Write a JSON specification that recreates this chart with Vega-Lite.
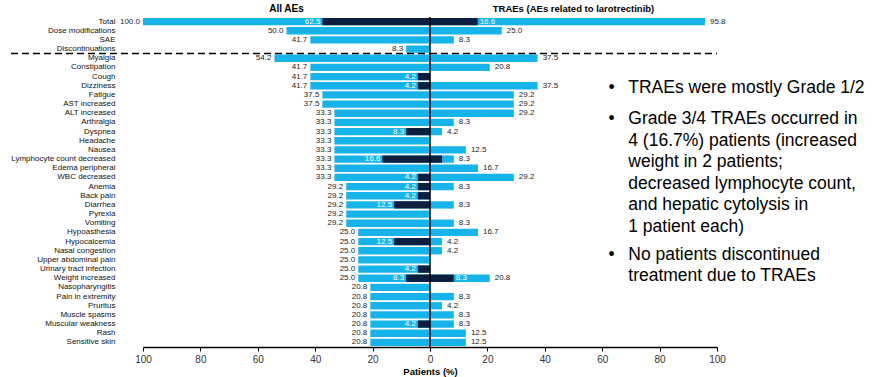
{
  "$schema": "https://vega.github.io/schema/vega-lite/v6.json",
  "padding": {"left": 10, "top": 3, "right": 2, "bottom": 2},
  "bounds": "flush",
  "spacing": 0,
  "config": {"view": {"stroke": null}, "font": "Liberation Sans"},
  "resolve": {"scale": {"y": "independent"}},
  "datasets": {
    "ae": [
      {"event": "Total", "ae": 100.0, "ae34": 37.5, "ae34Label": "62.5", "tr": 95.8, "tr34": 16.6, "tr34Label": "16.6"},
      {"event": "Dose modifications", "ae": 50.0, "tr": 25.0},
      {"event": "SAE", "ae": 41.7, "tr": 8.3},
      {"event": "Discontinuations", "ae": 8.3, "tr": null},
      {"event": "Myalgia", "ae": 54.2, "tr": 37.5},
      {"event": "Constipation", "ae": 41.7, "tr": 20.8},
      {"event": "Cough", "ae": 41.7, "ae34": 4.2, "ae34Label": "4.2", "tr": null},
      {"event": "Dizziness", "ae": 41.7, "ae34": 4.2, "ae34Label": "4.2", "tr": 37.5},
      {"event": "Fatigue", "ae": 37.5, "tr": 29.2},
      {"event": "AST increased", "ae": 37.5, "tr": 29.2},
      {"event": "ALT increased", "ae": 33.3, "tr": 29.2},
      {"event": "Arthralgia", "ae": 33.3, "tr": 8.3},
      {"event": "Dyspnea", "ae": 33.3, "ae34": 8.3, "ae34Label": "8.3", "tr": 4.2},
      {"event": "Headache", "ae": 33.3, "tr": null},
      {"event": "Nausea", "ae": 33.3, "tr": 12.5},
      {"event": "Lymphocyte count decreased", "ae": 33.3, "ae34": 16.6, "ae34Label": "16.6", "tr": 8.3, "tr34": 4.2},
      {"event": "Edema peripheral", "ae": 33.3, "tr": 16.7},
      {"event": "WBC decreased", "ae": 33.3, "ae34": 4.2, "ae34Label": "4.2", "tr": 29.2},
      {"event": "Anemia", "ae": 29.2, "ae34": 4.2, "ae34Label": "4.2", "tr": 8.3},
      {"event": "Back pain", "ae": 29.2, "ae34": 4.2, "ae34Label": "4.2", "tr": null},
      {"event": "Diarrhea", "ae": 29.2, "ae34": 12.5, "ae34Label": "12.5", "tr": 8.3},
      {"event": "Pyrexia", "ae": 29.2, "tr": null},
      {"event": "Vomiting", "ae": 29.2, "tr": 8.3},
      {"event": "Hypoasthesia", "ae": 25.0, "tr": 16.7},
      {"event": "Hypocalcemia", "ae": 25.0, "ae34": 12.5, "ae34Label": "12.5", "tr": 4.2},
      {"event": "Nasal congestion", "ae": 25.0, "tr": 4.2},
      {"event": "Upper abdominal pain", "ae": 25.0, "tr": null},
      {"event": "Urinary tract infection", "ae": 25.0, "ae34": 4.2, "ae34Label": "4.2", "tr": null},
      {"event": "Weight increased", "ae": 25.0, "ae34": 8.3, "ae34Label": "8.3", "tr": 20.8, "tr34": 8.3, "tr34Label": "8.3"},
      {"event": "Nasopharyngitis", "ae": 20.8, "tr": null},
      {"event": "Pain in extremity", "ae": 20.8, "tr": 8.3},
      {"event": "Pruritus", "ae": 20.8, "tr": 4.2},
      {"event": "Muscle spasms", "ae": 20.8, "tr": 8.3},
      {"event": "Muscular weakness", "ae": 20.8, "ae34": 4.2, "ae34Label": "4.2", "tr": 8.3},
      {"event": "Rash", "ae": 20.8, "tr": 12.5},
      {"event": "Sensitive skin", "ae": 20.8, "tr": 12.5}
    ],
    "notes": [
      {"line": 0, "bullet": true, "text": "TRAEs were mostly Grade 1/2"},
      {"line": 1.45, "bullet": true, "text": "Grade 3/4 TRAEs occurred in"},
      {"line": 2.45, "bullet": false, "text": "4 (16.7%) patients (increased"},
      {"line": 3.45, "bullet": false, "text": "weight in 2 patients;"},
      {"line": 4.45, "bullet": false, "text": "decreased lymphocyte count,"},
      {"line": 5.45, "bullet": false, "text": "and hepatic cytolysis in"},
      {"line": 6.45, "bullet": false, "text": "1 patient each)"},
      {"line": 7.75, "bullet": true, "text": "No patients discontinued"},
      {"line": 8.75, "bullet": false, "text": "treatment due to TRAEs"}
    ]
  },
  "hconcat": [
    {
      "width": 287,
      "height": 330,
      "data": {"name": "ae"},
      "title": {"text": "All AEs", "fontSize": 10, "fontWeight": "bold", "offset": 3, "color": "#000", "anchor": "middle"},
      "encoding": {
        "y": {
          "field": "event", "type": "nominal",
          "sort": ["Total", "Dose modifications", "SAE", "Discontinuations", "Myalgia", "Constipation", "Cough", "Dizziness", "Fatigue", "AST increased", "ALT increased", "Arthralgia", "Dyspnea", "Headache", "Nausea", "Lymphocyte count decreased", "Edema peripheral", "WBC decreased", "Anemia", "Back pain", "Diarrhea", "Pyrexia", "Vomiting", "Hypoasthesia", "Hypocalcemia", "Nasal congestion", "Upper abdominal pain", "Urinary tract infection", "Weight increased", "Nasopharyngitis", "Pain in extremity", "Pruritus", "Muscle spasms", "Muscular weakness", "Rash", "Sensitive skin"],
          "scale": {"paddingInner": 0.2, "paddingOuter": 0.1},
          "axis": {"ticks": false, "domain": false, "labelPadding": 28, "labelFontSize": 8, "labelColor": "#111", "title": null, "labelFont": "Liberation Sans"}
        }
      },
      "layer": [
        {
          "mark": {"type": "bar", "color": "#17B4EA"},
          "encoding": {
            "x": {
              "field": "ae", "type": "quantitative",
              "scale": {"domain": [0, 100], "reverse": true, "nice": false},
              "axis": {"values": [0, 20, 40, 60, 80, 100], "grid": false, "domainColor": "#000", "domainWidth": 1.5, "tickColor": "#000", "tickSize": 4, "labelFontSize": 10, "labelColor": "#333", "labelPadding": 3, "labelFlush": false, "title": "Patients (%)", "titleX": 287, "titleAlign": "center", "titleFontSize": 9.5, "titleFontWeight": "bold", "titleColor": "#000", "titlePadding": 2}
            }
          }
        },
        {
          "transform": [{"filter": {"field": "ae34", "valid": true}}],
          "mark": {"type": "bar", "color": "#0C1F3F"},
          "encoding": {"x": {"field": "ae34", "type": "quantitative"}}
        },
        {
          "transform": [{"filter": {"field": "ae34Label", "valid": true}}],
          "mark": {"type": "text", "align": "right", "dx": -2, "color": "#ffffff", "fontSize": 8},
          "encoding": {"x": {"field": "ae34", "type": "quantitative"}, "text": {"field": "ae34Label", "type": "nominal"}}
        },
        {
          "mark": {"type": "text", "align": "right", "dx": -3, "color": "#222", "fontSize": 8},
          "encoding": {"x": {"field": "ae", "type": "quantitative"}, "text": {"field": "ae", "type": "quantitative", "format": ".1f"}}
        },
        {
          "transform": [{"filter": "datum.event == 'Discontinuations'"}],
          "mark": {"type": "rule", "color": "#000", "strokeWidth": 1.5, "strokeDash": [7, 4]},
          "encoding": {
            "y": {"field": "event", "type": "nominal", "bandPosition": 1.1, "sort": ["Total", "Dose modifications", "SAE", "Discontinuations", "Myalgia", "Constipation", "Cough", "Dizziness", "Fatigue", "AST increased", "ALT increased", "Arthralgia", "Dyspnea", "Headache", "Nausea", "Lymphocyte count decreased", "Edema peripheral", "WBC decreased", "Anemia", "Back pain", "Diarrhea", "Pyrexia", "Vomiting", "Hypoasthesia", "Hypocalcemia", "Nasal congestion", "Upper abdominal pain", "Urinary tract infection", "Weight increased", "Nasopharyngitis", "Pain in extremity", "Pruritus", "Muscle spasms", "Muscular weakness", "Rash", "Sensitive skin"]},
            "x": {"datum": 146},
            "x2": {"datum": 0}
          }
        }
      ]
    },
    {
      "width": 287,
      "height": 330,
      "title": {"text": "TRAEs (AEs related to larotrectinib)", "fontSize": 9.5, "fontWeight": "bold", "offset": 3, "color": "#000", "anchor": "middle"},
      "resolve": {"scale": {"y": "independent"}, "axis": {"y": "independent"}},
      "layer": [
        {
          "data": {"name": "ae"},
          "transform": [{"filter": {"field": "tr", "valid": true}}],
          "mark": {"type": "bar", "color": "#17B4EA"},
          "encoding": {
            "y": {"field": "event", "type": "nominal", "axis": null, "scale": {"domain": ["Total", "Dose modifications", "SAE", "Discontinuations", "Myalgia", "Constipation", "Cough", "Dizziness", "Fatigue", "AST increased", "ALT increased", "Arthralgia", "Dyspnea", "Headache", "Nausea", "Lymphocyte count decreased", "Edema peripheral", "WBC decreased", "Anemia", "Back pain", "Diarrhea", "Pyrexia", "Vomiting", "Hypoasthesia", "Hypocalcemia", "Nasal congestion", "Upper abdominal pain", "Urinary tract infection", "Weight increased", "Nasopharyngitis", "Pain in extremity", "Pruritus", "Muscle spasms", "Muscular weakness", "Rash", "Sensitive skin"], "paddingInner": 0.2, "paddingOuter": 0.1}},
            "x": {
              "field": "tr", "type": "quantitative",
              "scale": {"domain": [0, 100], "nice": false},
              "axis": {"values": [0, 20, 40, 60, 80, 100], "grid": false, "domainColor": "#000", "domainWidth": 1.5, "tickColor": "#000", "tickSize": 4, "labelFontSize": 10, "labelColor": "#333", "labelPadding": 3, "labelFlush": false, "labelExpr": "datum.value == 0 ? '' : datum.label", "title": null}
            }
          }
        },
        {
          "data": {"name": "ae"},
          "transform": [{"filter": {"field": "tr34", "valid": true}}],
          "mark": {"type": "bar", "color": "#0C1F3F"},
          "encoding": {
            "y": {"field": "event", "type": "nominal", "axis": null, "scale": {"domain": ["Total", "Dose modifications", "SAE", "Discontinuations", "Myalgia", "Constipation", "Cough", "Dizziness", "Fatigue", "AST increased", "ALT increased", "Arthralgia", "Dyspnea", "Headache", "Nausea", "Lymphocyte count decreased", "Edema peripheral", "WBC decreased", "Anemia", "Back pain", "Diarrhea", "Pyrexia", "Vomiting", "Hypoasthesia", "Hypocalcemia", "Nasal congestion", "Upper abdominal pain", "Urinary tract infection", "Weight increased", "Nasopharyngitis", "Pain in extremity", "Pruritus", "Muscle spasms", "Muscular weakness", "Rash", "Sensitive skin"], "paddingInner": 0.2, "paddingOuter": 0.1}},
            "x": {"field": "tr34", "type": "quantitative"}
          }
        },
        {
          "data": {"name": "ae"},
          "transform": [{"filter": {"field": "tr34Label", "valid": true}}],
          "mark": {"type": "text", "align": "left", "dx": 2, "color": "#ffffff", "fontSize": 8},
          "encoding": {
            "y": {"field": "event", "type": "nominal", "axis": null, "scale": {"domain": ["Total", "Dose modifications", "SAE", "Discontinuations", "Myalgia", "Constipation", "Cough", "Dizziness", "Fatigue", "AST increased", "ALT increased", "Arthralgia", "Dyspnea", "Headache", "Nausea", "Lymphocyte count decreased", "Edema peripheral", "WBC decreased", "Anemia", "Back pain", "Diarrhea", "Pyrexia", "Vomiting", "Hypoasthesia", "Hypocalcemia", "Nasal congestion", "Upper abdominal pain", "Urinary tract infection", "Weight increased", "Nasopharyngitis", "Pain in extremity", "Pruritus", "Muscle spasms", "Muscular weakness", "Rash", "Sensitive skin"], "paddingInner": 0.2, "paddingOuter": 0.1}},
            "x": {"field": "tr34", "type": "quantitative"},
            "text": {"field": "tr34Label", "type": "nominal"}
          }
        },
        {
          "data": {"name": "ae"},
          "transform": [{"filter": {"field": "tr", "valid": true}}],
          "mark": {"type": "text", "align": "left", "dx": 5, "color": "#222", "fontSize": 8},
          "encoding": {
            "y": {"field": "event", "type": "nominal", "axis": null, "scale": {"domain": ["Total", "Dose modifications", "SAE", "Discontinuations", "Myalgia", "Constipation", "Cough", "Dizziness", "Fatigue", "AST increased", "ALT increased", "Arthralgia", "Dyspnea", "Headache", "Nausea", "Lymphocyte count decreased", "Edema peripheral", "WBC decreased", "Anemia", "Back pain", "Diarrhea", "Pyrexia", "Vomiting", "Hypoasthesia", "Hypocalcemia", "Nasal congestion", "Upper abdominal pain", "Urinary tract infection", "Weight increased", "Nasopharyngitis", "Pain in extremity", "Pruritus", "Muscle spasms", "Muscular weakness", "Rash", "Sensitive skin"], "paddingInner": 0.2, "paddingOuter": 0.1}},
            "x": {"field": "tr", "type": "quantitative"},
            "text": {"field": "tr", "type": "quantitative", "format": ".1f"}
          }
        },
        {
          "data": {"name": "ae"},
          "transform": [{"filter": "datum.event == 'Discontinuations'"}],
          "mark": {"type": "rule", "color": "#000", "strokeWidth": 1.5, "strokeDash": [7, 4]},
          "encoding": {
            "y": {"field": "event", "type": "nominal", "bandPosition": 1.1, "axis": null, "scale": {"domain": ["Total", "Dose modifications", "SAE", "Discontinuations", "Myalgia", "Constipation", "Cough", "Dizziness", "Fatigue", "AST increased", "ALT increased", "Arthralgia", "Dyspnea", "Headache", "Nausea", "Lymphocyte count decreased", "Edema peripheral", "WBC decreased", "Anemia", "Back pain", "Diarrhea", "Pyrexia", "Vomiting", "Hypoasthesia", "Hypocalcemia", "Nasal congestion", "Upper abdominal pain", "Urinary tract infection", "Weight increased", "Nasopharyngitis", "Pain in extremity", "Pruritus", "Muscle spasms", "Muscular weakness", "Rash", "Sensitive skin"], "paddingInner": 0.2, "paddingOuter": 0.1}},
            "x": {"datum": 0},
            "x2": {"datum": 100}
          }
        },
        {
          "data": {"values": [{"zero": 0}]},
          "mark": {"type": "rule", "color": "#000", "strokeWidth": 1.5},
          "encoding": {"x": {"datum": 0}}
        },
        {
          "data": {"name": "notes"},
          "transform": [{"filter": "datum.bullet"}],
          "mark": {"type": "text", "align": "center", "baseline": "middle", "fontSize": 17.5, "color": "#000"},
          "encoding": {
            "x": {"datum": 63.3},
            "y": {"field": "line", "type": "quantitative", "axis": null, "scale": {"domain": [-3.3, 12.05], "reverse": true, "zero": false, "nice": false}},
            "text": {"value": "•"}
          }
        },
        {
          "data": {"name": "notes"},
          "mark": {"type": "text", "align": "left", "baseline": "middle", "dx": 16.6, "fontSize": 17.5, "color": "#000"},
          "encoding": {
            "x": {"datum": 63.3},
            "y": {"field": "line", "type": "quantitative", "axis": null, "scale": {"domain": [-3.3, 12.05], "reverse": true, "zero": false, "nice": false}},
            "text": {"field": "text", "type": "nominal"}
          }
        }
      ]
    }
  ]
}
